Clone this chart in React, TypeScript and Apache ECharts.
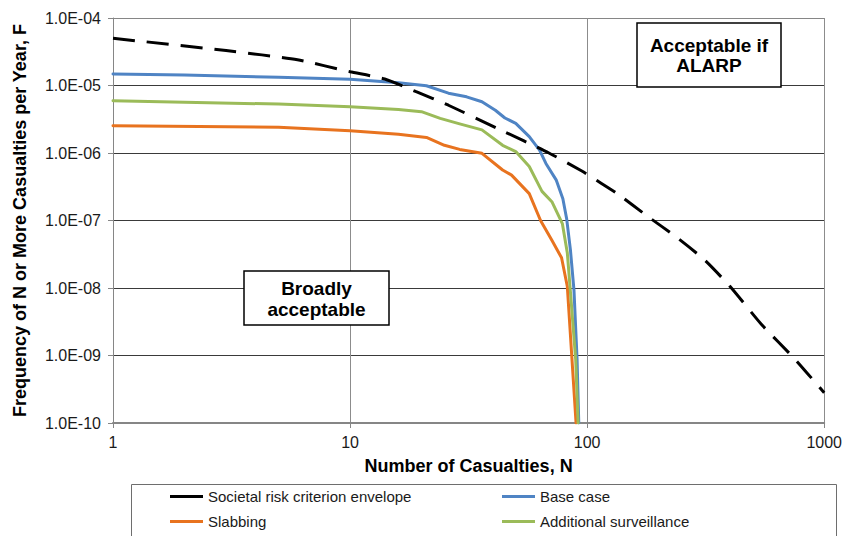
import React, { useEffect, useRef } from "react";
import * as echarts from "echarts";

// ---- data ----
const envelopeN = [1, 3, 6, 10, 14, 19, 26, 42, 69, 95, 110, 134, 179, 239, 313, 401, 543, 753, 1000];
const envelopeF = [5e-5, 3.3e-5, 2.4e-5, 1.6e-5, 1.25e-5, 8.1e-6, 5.1e-6, 2.3e-6, 1e-6, 5.4e-7, 3.9e-7, 2.5e-7, 1.17e-7, 5.6e-8, 2.6e-8, 1.05e-8, 2.9e-9, 8.8e-10, 2.8e-10];

const baseN = [1, 2, 5, 10, 16, 21, 26, 31, 36, 41, 45, 50, 57, 63, 67, 74, 79, 82, 85, 88, 90.7, 92.2];
const baseF = [1.48e-5, 1.43e-5, 1.32e-5, 1.24e-5, 1.1e-5, 9.9e-6, 7.7e-6, 6.8e-6, 5.75e-6, 4.3e-6, 3.3e-6, 2.75e-6, 1.75e-6, 1.1e-6, 7e-7, 4e-7, 2.1e-7, 1.05e-7, 3.7e-8, 9.3e-9, 8.6e-10, 1e-10];

const slabN = [1, 5, 10, 16, 21, 25, 29, 36, 44, 48, 57, 63.6, 71, 78, 82.5, 89.8];
const slabF = [2.54e-6, 2.4e-6, 2.14e-6, 1.9e-6, 1.7e-6, 1.3e-6, 1.13e-6, 9.9e-7, 5.6e-7, 4.7e-7, 2.5e-7, 1e-7, 5.1e-8, 2.8e-8, 1.05e-8, 1e-10];

const survN = [1, 5, 10, 16, 20, 24, 29, 36, 44, 50, 57, 64.5, 71, 78.6, 82.5, 85.1, 89.5, 91.6];
const survF = [5.96e-6, 5.3e-6, 4.85e-6, 4.4e-6, 4.1e-6, 3.26e-6, 2.7e-6, 2.2e-6, 1.3e-6, 1.05e-6, 6.3e-7, 2.7e-7, 1.9e-7, 9e-8, 3.3e-8, 8.4e-9, 8.6e-10, 1e-10];

const seriesNames = [
  "Societal risk criterion envelope",
  "Base case",
  "Slabbing",
  "Additional surveillance",
];
const xAxisTitle = "Number of Casualties, N";
const yAxisTitle = "Frequency of N or More Casualties per Year, F";
const zoneLabels = ["Acceptable if\nALARP", "Broadly\nacceptable"];

const FONT = "'Liberation Sans', Arial, Helvetica, sans-serif";
const COLORS = ["#000000", "#4F84C4", "#E8731F", "#9BBB59"];

const pairs = (xs: number[], ys: number[]) => xs.map((x, i) => [x, ys[i]]);

const yLabel = (v: number) => {
  const e = Math.round(Math.log10(v));
  const sign = e < 0 ? "-" : "+";
  return "1.0E" + sign + String(Math.abs(e)).padStart(2, "0");
};

export default function App() {
  const ref = useRef<HTMLDivElement>(null);
  useEffect(() => {
    if (!ref.current) return;
    const chart = echarts.init(ref.current, null, { renderer: "svg" });
    const lineSeries = (name: string, data: number[][], color: string, extra: any = {}) => ({
      name,
      type: "line",
      data,
      symbol: "none",
      smooth: false,
      lineStyle: { color, width: 3, join: "round", cap: "round" },
      itemStyle: { color },
      ...extra,
    });
    const legendCommon = {
      orient: "vertical",
      top: 489,
      icon: "rect",
      itemWidth: 33,
      itemHeight: 3,
      itemGap: 10,
      padding: 0,
      selectedMode: false,
      textStyle: { fontFamily: FONT, fontSize: 15, color: "#1a1a1a", lineHeight: 15 },
    };
    chart.setOption({
      animation: false,
      backgroundColor: "#ffffff",
      textStyle: { fontFamily: FONT },
      grid: { left: 113, right: 19, top: 18, bottom: 113, containLabel: false },
      xAxis: {
        type: "log",
        logBase: 10,
        min: 1,
        max: 1000,
        name: xAxisTitle,
        nameLocation: "middle",
        nameGap: 34,
        nameTextStyle: { fontFamily: FONT, fontSize: 18, fontWeight: "bold", color: "#000" },
        axisLine: { show: true, lineStyle: { color: "#868686", width: 2 } },
        axisTick: { show: true, inside: false, length: 5, lineStyle: { color: "#868686" } },
        axisLabel: { fontFamily: FONT, fontSize: 16, color: "#1a1a1a", margin: 11, formatter: (v: number) => String(Math.round(v)) },
        splitLine: { show: true, lineStyle: { color: "#8c8c8c", width: 1 } },
        minorTick: { show: false },
      },
      yAxis: {
        type: "log",
        logBase: 10,
        min: 1e-10,
        max: 1e-4,
        name: yAxisTitle,
        nameLocation: "middle",
        nameGap: 84,
        nameTextStyle: { fontFamily: FONT, fontSize: 18, fontWeight: "bold", color: "#000" },
        axisLine: { show: true, lineStyle: { color: "#868686", width: 1 } },
        axisTick: { show: true, inside: false, length: 5, lineStyle: { color: "#868686" } },
        axisLabel: { fontFamily: FONT, fontSize: 16, color: "#1a1a1a", margin: 12, formatter: yLabel },
        splitLine: {
          show: true,
          lineStyle: { color: ["#868686", "#3a3a3a", "#3a3a3a", "#3a3a3a", "#3a3a3a", "#3a3a3a", "#8c8c8c"], width: 1 },
        },
      },
      legend: [
        { ...legendCommon, left: 170, data: [seriesNames[0], seriesNames[2]] },
        { ...legendCommon, left: 502, data: [seriesNames[1], seriesNames[3]] },
      ],
      series: [
        lineSeries(seriesNames[1], pairs(baseN, baseF), COLORS[1]),
        lineSeries(seriesNames[2], pairs(slabN, slabF), COLORS[2]),
        lineSeries(seriesNames[3], pairs(survN, survF), COLORS[3]),
        lineSeries(seriesNames[0], pairs(envelopeN, envelopeF), COLORS[0], {
          smooth: 0.2,
          lineStyle: { color: COLORS[0], width: 3, type: [22, 12], cap: "butt" },
          z: 5,
        }),
      ],
      graphic: [
        {
          type: "rect",
          z: 0,
          shape: { x: 131.5, y: 484.5, width: 705, height: 80 },
          style: { fill: "none", stroke: "#6e6e6e", lineWidth: 1 },
        },
        {
          type: "rect",
          z: 20,
          shape: { x: 637, y: 23, width: 144, height: 64 },
          style: { fill: "#ffffff", stroke: "#000000", lineWidth: 1.5 },
        },
        {
          type: "text",
          z: 21,
          x: 709,
          y: 55,
          style: {
            text: zoneLabels[0],
            fontFamily: FONT,
            fontSize: 19,
            fontWeight: "bold",
            fill: "#000",
            align: "center",
            verticalAlign: "middle",
            lineHeight: 20,
          },
        },
        {
          type: "rect",
          z: 20,
          shape: { x: 244, y: 271, width: 145, height: 54 },
          style: { fill: "#ffffff", stroke: "#000000", lineWidth: 1.5 },
        },
        {
          type: "text",
          z: 21,
          x: 316.5,
          y: 299,
          style: {
            text: zoneLabels[1],
            fontFamily: FONT,
            fontSize: 19,
            fontWeight: "bold",
            fill: "#000",
            align: "center",
            verticalAlign: "middle",
            lineHeight: 21,
          },
        },
      ],
    });
    return () => chart.dispose();
  }, []);
  return (
    <div
      ref={ref}
      style={{ position: "fixed", left: 0, top: 0, width: 845, height: 536, background: "#fff" }}
    />
  );
}
